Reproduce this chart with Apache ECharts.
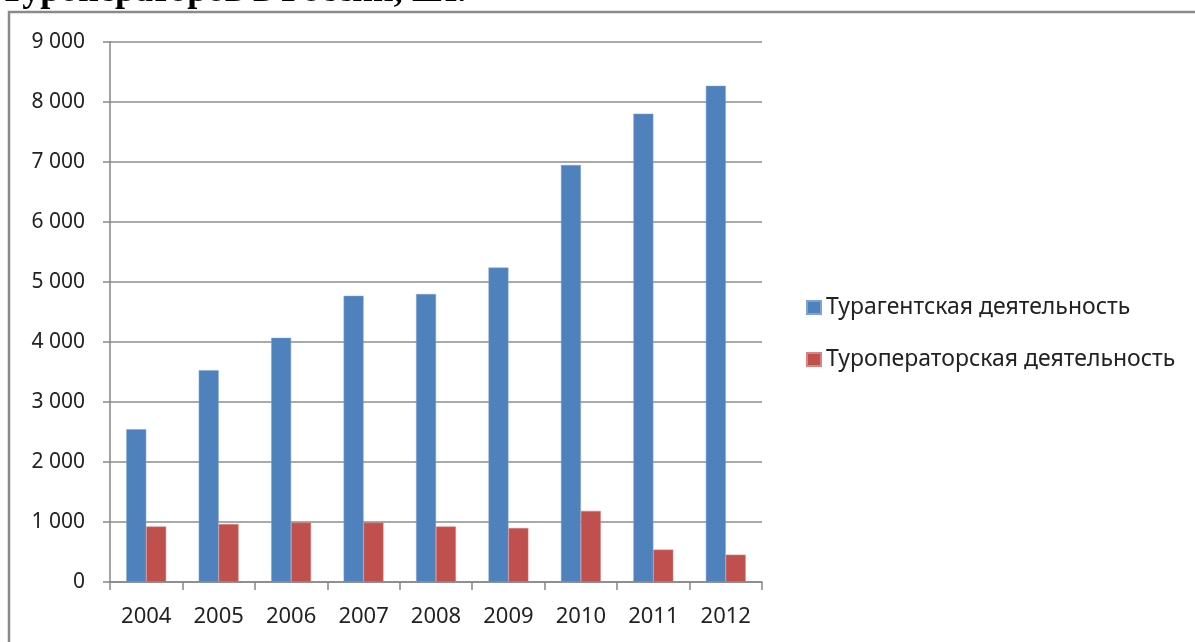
<!DOCTYPE html>
<html>
<head>
<meta charset="utf-8">
<style>
html,body{margin:0;padding:0;background:#fff;}
#c{width:1195px;height:642px;}
</style>
<script src="https://cdn.jsdelivr.net/npm/echarts@6/dist/echarts.min.js"></script>
</head>
<body>
<div id="c"></div>
<script>
var titleText = 'Туроператоров в России, шт.';
var categories = ['2004','2005','2006','2007','2008','2009','2010','2011','2012'];
var seriesNames = ['Турагентская деятельность','Туроператорская деятельность'];
var agentValues = [2545, 3530, 4070, 4770, 4800, 5240, 6950, 7805, 8270];
var operatorValues = [925, 965, 990, 990, 925, 900, 1185, 540, 455];
var yTicks = {min: 0, max: 9000, interval: 1000};

var font = '"Noto Sans", sans-serif';
var chart = echarts.init(document.getElementById('c'));
chart.setOption({
  animation: false,
  backgroundColor: '#fff',
  graphic: [
    {type: 'rect', shape: {x: 9, y: 12, width: 1200, height: 700}, style: {fill: 'none', stroke: '#8a8a8a', lineWidth: 2.5}, silent: true},
    {type: 'text', left: 0, top: -26, style: {text: titleText, font: 'bold 36px "Liberation Serif", serif', fill: '#000'}, silent: true}
  ],
  legend: {
    orient: 'vertical',
    left: 806, top: 296, padding: 0,
    itemWidth: 14, itemHeight: 13, itemGap: 29,
    icon: 'rect',
    textStyle: {fontFamily: font, fontSize: 23, color: '#222'},
    data: seriesNames
  },
  grid: {left: 110, right: 433, top: 42, bottom: 60, containLabel: false},
  xAxis: {
    type: 'category',
    data: categories,
    boundaryGap: true,
    axisLine: {lineStyle: {color: '#868686', width: 1.5}},
    axisTick: {show: true, length: 8, lineStyle: {color: '#868686', width: 1.5}},
    axisLabel: {fontFamily: font, fontSize: 22, color: '#222', margin: 24}
  },
  yAxis: {
    type: 'value',
    min: yTicks.min, max: yTicks.max, interval: yTicks.interval,
    axisLine: {show: true, lineStyle: {color: '#868686', width: 1.5}},
    axisTick: {show: true, length: 7, lineStyle: {color: '#868686', width: 1.5}},
    splitLine: {lineStyle: {color: '#8c8c8c', width: 1.5}},
    axisLabel: {
      fontFamily: font, fontSize: 21, color: '#222', margin: 25,
      formatter: function (v) { return String(v).replace(/\B(?=(\d{3})+(?!\d))/g, ' '); }
    }
  },
  series: [
    {name: seriesNames[0], type: 'bar', data: agentValues, barGap: '0%', barCategoryGap: '45%',
     itemStyle: {color: '#4F81BD', borderColor: '#7ea3d2', borderWidth: 0.5}},
    {name: seriesNames[1], type: 'bar', data: operatorValues, barGap: '0%', barCategoryGap: '45%',
     itemStyle: {color: '#C0504D', borderColor: '#d98480', borderWidth: 0.5}}
  ]
});
</script>
</body>
</html>
